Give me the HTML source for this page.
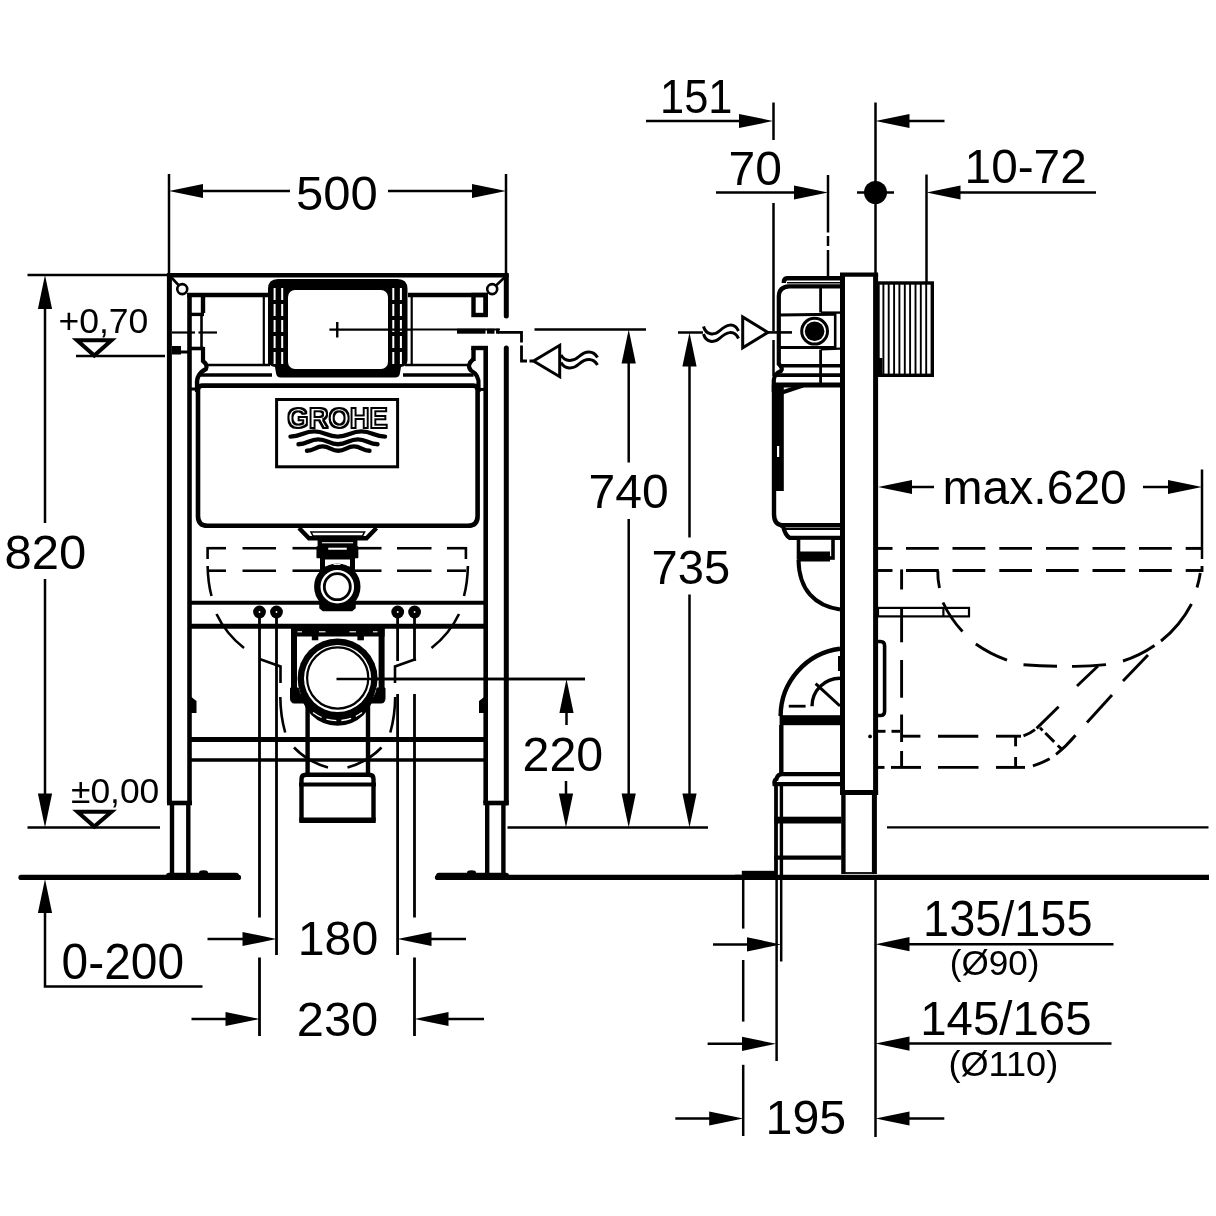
<!DOCTYPE html>
<html><head><meta charset="utf-8"><title>Drawing</title>
<style>
html,body{margin:0;padding:0;background:#fff;}
body{width:1216px;height:1216px;overflow:hidden;}
svg{display:block;}
svg text{font-family:"Liberation Sans",sans-serif;fill:#000;stroke:none;}
</style></head><body>
<svg width="1216" height="1216" viewBox="0 0 1216 1216">
<rect x="0" y="0" width="1216" height="1216" fill="#fff" stroke="none"/>
<defs><filter id="nf" x="-10%" y="-30%" width="120%" height="160%"><feOffset dx="0" dy="0"/></filter></defs>
<g stroke="#000" fill="none" stroke-linecap="butt">
<g id="dims-front">
<line x1="169" y1="174" x2="169" y2="275" stroke-width="2.5" />
<line x1="506" y1="174" x2="506" y2="275" stroke-width="2.5" />
<line x1="203" y1="191" x2="290" y2="191" stroke-width="2.5" />
<line x1="388" y1="191" x2="472" y2="191" stroke-width="2.5" />
<polygon points="169,191 203,183.9 203,198.1" fill="#000" stroke="none"/>
<polygon points="506,191 472,183.9 472,198.1" fill="#000" stroke="none"/>
<text transform="translate(296.00,210) scale(1.0000,1)" font-size="49" filter="url(#nf)">500</text>
<line x1="27.5" y1="275" x2="169" y2="275" stroke-width="2.5" />
<line x1="45" y1="309" x2="45" y2="523" stroke-width="2.5" />
<line x1="45" y1="579" x2="45" y2="794" stroke-width="2.5" />
<polygon points="45,275 37.9,309 52.1,309" fill="#000" stroke="none"/>
<polygon points="45,827.5 37.9,793.5 52.1,793.5" fill="#000" stroke="none"/>
<text transform="translate(4.50,569) scale(1.0000,1)" font-size="49" filter="url(#nf)">820</text>
<line x1="27.5" y1="827.5" x2="160" y2="827.5" stroke-width="2.5" />
<text transform="translate(58.46,332.5) scale(1.0155,1)" font-size="35" filter="url(#nf)">+0,70</text>
<path d="M77,340.3 H111.5 L94.3,355.5 Z" stroke-width="4" fill="none" stroke-linejoin="miter"/>
<line x1="76" y1="356" x2="165" y2="356" stroke-width="2.5" />
<text transform="translate(70.98,803) scale(1.0119,1)" font-size="35" filter="url(#nf)">±0,00</text>
<path d="M77.5,811.8 H111.5 L94.3,826.5 Z" stroke-width="4" fill="none" stroke-linejoin="miter"/>
<polygon points="45,879 37.9,913 52.1,913" fill="#000" stroke="none"/>
<path d="M45,912 V986.5 H202.5" stroke-width="2.5" fill="none" />
<text transform="translate(61.56,979) scale(0.9775,1)" font-size="49" filter="url(#nf)">0-200</text>
<line x1="207.5" y1="939" x2="243" y2="939" stroke-width="2.5" />
<polygon points="276.5,939 242.5,931.9 242.5,946.1" fill="#000" stroke="none"/>
<line x1="431" y1="939" x2="466" y2="939" stroke-width="2.5" />
<polygon points="397.5,939 431.5,931.9 431.5,946.1" fill="#000" stroke="none"/>
<text transform="translate(297.77,955) scale(0.9840,1)" font-size="49" filter="url(#nf)">180</text>
<line x1="191.5" y1="1019" x2="226" y2="1019" stroke-width="2.5" />
<polygon points="259.5,1019 225.5,1011.9 225.5,1026.1" fill="#000" stroke="none"/>
<line x1="448" y1="1019" x2="484" y2="1019" stroke-width="2.5" />
<polygon points="414.5,1019 448.5,1011.9 448.5,1026.1" fill="#000" stroke="none"/>
<text transform="translate(296.71,1035.7) scale(0.9974,1)" font-size="49" filter="url(#nf)">230</text>
<line x1="259.5" y1="612" x2="259.5" y2="917.5" stroke-width="2.8" />
<line x1="259.5" y1="957.5" x2="259.5" y2="1036" stroke-width="2.8" />
<line x1="276.5" y1="612" x2="276.5" y2="955" stroke-width="2.8" />
<line x1="397.6" y1="694" x2="397.6" y2="955" stroke-width="2.8" />
<line x1="397.6" y1="612" x2="397.6" y2="661" stroke-width="2.8" />
<line x1="414.5" y1="694" x2="414.5" y2="917.5" stroke-width="2.8" />
<line x1="414.5" y1="612" x2="414.5" y2="661" stroke-width="2.8" />
<line x1="414.5" y1="957.5" x2="414.5" y2="1036" stroke-width="2.8" />
<line x1="336.5" y1="679" x2="585" y2="679" stroke-width="2.5" />
<polygon points="566.5,679 559.4,713 573.6,713" fill="#000" stroke="none"/>
<line x1="566.5" y1="712" x2="566.5" y2="725" stroke-width="2.5" />
<text transform="translate(522.53,770.7) scale(0.9870,1)" font-size="49" filter="url(#nf)">220</text>
<line x1="566" y1="781" x2="566" y2="795" stroke-width="2.5" />
<polygon points="566,827.5 558.9,793.5 573.1,793.5" fill="#000" stroke="none"/>
<line x1="507.5" y1="827.4" x2="708" y2="827.4" stroke-width="2.5" />
<line x1="534.5" y1="329.5" x2="646" y2="329.5" stroke-width="2.5" />
<polygon points="628.7,329.5 621.6,363.5 635.8000000000001,363.5" fill="#000" stroke="none"/>
<line x1="628.7" y1="363" x2="628.7" y2="462.5" stroke-width="2.5" />
<line x1="628.7" y1="519" x2="628.7" y2="794" stroke-width="2.5" />
<polygon points="628.7,827.5 621.6,793.5 635.8000000000001,793.5" fill="#000" stroke="none"/>
<text transform="translate(588.55,508) scale(0.9805,1)" font-size="49" filter="url(#nf)">740</text>
<line x1="678" y1="332.5" x2="703" y2="332.5" stroke-width="2.5" />
<polygon points="689.5,332.5 682.4,366.5 696.6,366.5" fill="#000" stroke="none"/>
<line x1="689.5" y1="366" x2="689.5" y2="537.5" stroke-width="2.5" />
<line x1="689.5" y1="594.5" x2="689.5" y2="794" stroke-width="2.5" />
<polygon points="689.5,827.5 682.4,793.5 696.6,793.5" fill="#000" stroke="none"/>
<text transform="translate(651.60,584) scale(0.9610,1)" font-size="49" filter="url(#nf)">735</text>
</g>
<g id="dims-side">
<line x1="646" y1="121" x2="740" y2="121" stroke-width="2.5" />
<polygon points="773,121 739,113.9 739,128.1" fill="#000" stroke="none"/>
<line x1="773.5" y1="102.5" x2="773.5" y2="140" stroke-width="2.5" />
<line x1="773.5" y1="203" x2="773.5" y2="331" stroke-width="2.5" />
<line x1="773.5" y1="340" x2="773.5" y2="376" stroke-width="2.5" />
<line x1="875.5" y1="102.5" x2="875.5" y2="274" stroke-width="2.5" />
<polygon points="875.5,121 909.5,113.9 909.5,128.1" fill="#000" stroke="none"/>
<line x1="909" y1="121" x2="944.5" y2="121" stroke-width="2.5" />
<text transform="translate(660.02,112.5) scale(0.8851,1)" font-size="49" filter="url(#nf)">151</text>
<line x1="716" y1="192.5" x2="795" y2="192.5" stroke-width="2.5" />
<polygon points="828,192.5 794,185.4 794,199.6" fill="#000" stroke="none"/>
<line x1="828" y1="175" x2="828" y2="232.5" stroke-width="2.5" />
<line x1="828" y1="236" x2="828" y2="246" stroke-width="2.5" />
<line x1="828" y1="250" x2="828" y2="276" stroke-width="2.5" />
<text transform="translate(728.55,184.5) scale(0.9800,1)" font-size="49" filter="url(#nf)">70</text>
<circle cx="875.5" cy="192.5" r="11.5" stroke-width="0" fill="#000" />
<line x1="857" y1="192.5" x2="894" y2="192.5" stroke-width="2.5" />
<line x1="926.5" y1="174.5" x2="926.5" y2="282" stroke-width="2.5" />
<polygon points="926.5,192.5 960.5,185.4 960.5,199.6" fill="#000" stroke="none"/>
<line x1="960" y1="192.5" x2="1096" y2="192.5" stroke-width="2.5" />
<text transform="translate(964.61,183) scale(0.9746,1)" font-size="49" filter="url(#nf)">10-72</text>
<line x1="878" y1="487" x2="878" y2="487" stroke-width="2.5" />
<polygon points="878,487 912,479.9 912,494.1" fill="#000" stroke="none"/>
<line x1="911" y1="487" x2="934" y2="487" stroke-width="2.5" />
<line x1="1143" y1="487" x2="1168" y2="487" stroke-width="2.5" />
<polygon points="1202,487 1168,479.9 1168,494.1" fill="#000" stroke="none"/>
<line x1="1202" y1="469.5" x2="1202" y2="559" stroke-width="2.5" />
<text transform="translate(942.57,504) scale(0.9808,1)" font-size="49" filter="url(#nf)">max.620</text>
<line x1="713" y1="944.4" x2="748" y2="944.4" stroke-width="2.5" />
<polygon points="781,944.4 747,937.3 747,951.5" fill="#000" stroke="none"/>
<polygon points="875.5,944.2 909.5,937.1 909.5,951.3000000000001" fill="#000" stroke="none"/>
<line x1="909" y1="944.2" x2="1113.5" y2="944.2" stroke-width="2.5" />
<text transform="translate(923.10,936) scale(0.9565,1)" font-size="49" filter="url(#nf)">135/155</text>
<text transform="translate(949.80,975) scale(1.0012,1)" font-size="35" filter="url(#nf)">(Ø90)</text>
<line x1="707.6" y1="1043.8" x2="742" y2="1043.8" stroke-width="2.5" />
<polygon points="776,1043.8 742,1036.7 742,1050.8999999999999" fill="#000" stroke="none"/>
<polygon points="875.5,1043.6 909.5,1036.5 909.5,1050.6999999999998" fill="#000" stroke="none"/>
<line x1="909" y1="1043.6" x2="1111.5" y2="1043.6" stroke-width="2.5" />
<text transform="translate(920.25,1035.2) scale(0.9671,1)" font-size="49" filter="url(#nf)">145/165</text>
<text transform="translate(948.42,1075.5) scale(1.0327,1)" font-size="35" filter="url(#nf)">(Ø110)</text>
<line x1="675.3" y1="1118.5" x2="710" y2="1118.5" stroke-width="2.5" />
<polygon points="743.2,1118.5 709.2,1111.4 709.2,1125.6" fill="#000" stroke="none"/>
<polygon points="875.5,1118.5 909.5,1111.4 909.5,1125.6" fill="#000" stroke="none"/>
<line x1="909" y1="1118.5" x2="944.3" y2="1118.5" stroke-width="2.5" />
<text transform="translate(765.56,1133.5) scale(0.9867,1)" font-size="49" filter="url(#nf)">195</text>
<line x1="743.2" y1="878" x2="743.2" y2="928.6" stroke-width="2.5" />
<line x1="743.2" y1="960" x2="743.2" y2="1021.6" stroke-width="2.5" />
<line x1="743.2" y1="1064.8" x2="743.2" y2="1136" stroke-width="2.5" />
<line x1="776.6" y1="877" x2="776.6" y2="1061" stroke-width="2.5" />
<line x1="781.2" y1="877" x2="781.2" y2="961.5" stroke-width="2.5" />
<line x1="875.5" y1="877" x2="875.5" y2="1137" stroke-width="2.5" />
</g>
<g id="front">
<line x1="167" y1="275.3" x2="508.6" y2="275.3" stroke-width="4.4" />
<line x1="169.4" y1="275" x2="169.4" y2="803" stroke-width="5" />
<line x1="506.3" y1="275" x2="506.3" y2="316" stroke-width="5" stroke-linecap="round"/>
<line x1="506.3" y1="348" x2="506.3" y2="803" stroke-width="5" stroke-linecap="round"/>
<line x1="189.5" y1="293" x2="189.5" y2="803" stroke-width="4.6" />
<line x1="485.7" y1="293" x2="485.7" y2="315" stroke-width="4.6" />
<line x1="485.7" y1="346" x2="485.7" y2="803" stroke-width="4.6" />
<line x1="167" y1="803" x2="192" y2="803" stroke-width="4.6" />
<line x1="483.3" y1="803" x2="508.8" y2="803" stroke-width="4.6" />
<line x1="172" y1="803" x2="172" y2="876" stroke-width="4.4" />
<line x1="188.3" y1="803" x2="188.3" y2="876" stroke-width="4.4" />
<line x1="487.2" y1="803" x2="487.2" y2="876" stroke-width="4.4" />
<line x1="503.4" y1="803" x2="503.4" y2="876" stroke-width="4.4" />
<line x1="170.5" y1="276.5" x2="182.25" y2="289.1" stroke-width="2.6" />
<circle cx="182.25" cy="289.1" r="5" stroke-width="2.6" fill="#fff" />
<line x1="505.5" y1="276.5" x2="492.2" y2="289.1" stroke-width="2.6" />
<circle cx="492.2" cy="289.1" r="5" stroke-width="2.6" fill="#fff" />
<line x1="189.5" y1="602.8" x2="485.7" y2="602.8" stroke-width="4" />
<line x1="189.5" y1="626.2" x2="485.7" y2="626.2" stroke-width="5" />
<line x1="189.5" y1="739.5" x2="485.7" y2="739.5" stroke-width="5" />
<line x1="189.5" y1="760" x2="485.7" y2="760" stroke-width="3.2" />
<path d="M190,696 L196.5,701 V713 H190 Z" fill="#000" stroke="none"/>
<path d="M485.5,696 L479,701 V713 H485.5 Z" fill="#000" stroke="none"/>
<line x1="187.2" y1="295" x2="270" y2="295" stroke-width="4.4" />
<line x1="203" y1="293" x2="203" y2="313" stroke-width="4.4" />
<line x1="189.5" y1="314.4" x2="204" y2="314.4" stroke-width="3.4" />
<line x1="201.5" y1="314" x2="201.5" y2="348" stroke-width="2.6" />
<line x1="189.5" y1="348.5" x2="204" y2="348.5" stroke-width="3.6" />
<path d="M203,347 V361 Q208,365 206,369 Q196,374 197,385 V392" stroke-width="4.2" fill="none" />
<line x1="263.8" y1="297" x2="263.8" y2="365" stroke-width="2.2" />
<line x1="269" y1="342" x2="269" y2="364" stroke-width="1.8" />
<line x1="206" y1="365" x2="270" y2="365" stroke-width="2.6" />
<line x1="200" y1="375" x2="272" y2="375" stroke-width="3.4" />
<line x1="189.5" y1="389" x2="197" y2="389" stroke-width="3" />
<line x1="172" y1="332.5" x2="195" y2="332.5" stroke-width="2.2" />
<line x1="198.5" y1="332.5" x2="217" y2="332.5" stroke-width="2.2" />
<rect x="172" y="346" width="9" height="8.5" stroke-width="0" fill="#000" />
<line x1="180" y1="352" x2="188" y2="352" stroke-width="3" />
<line x1="408" y1="295" x2="488" y2="295" stroke-width="4.4" />
<rect x="473.5" y="295" width="12.2" height="20" stroke-width="4.4" fill="none" />
<path d="M471.2,348 H488" stroke-width="4.4" fill="none" />
<line x1="473.5" y1="348" x2="473.5" y2="361" stroke-width="4.4" />
<path d="M473.5,359 Q466,365 471,370.5 Q479.5,375 478.5,385 V392" stroke-width="4.2" fill="none" />
<line x1="411.7" y1="297" x2="411.7" y2="365" stroke-width="2.2" />
<line x1="405" y1="365" x2="468" y2="365" stroke-width="2.6" />
<line x1="403" y1="375" x2="473.5" y2="375" stroke-width="3.4" />
<line x1="478.5" y1="389.4" x2="485" y2="389.4" stroke-width="3" />
<path d="M202,385.6 H473.5 Q477.6,385.6 477.6,390 V516 Q477.6,525.8 468,525.8 H207.5 Q198,525.8 198,516 V390 Q198,385.6 202,385.6 Z" stroke-width="4.6" fill="none" />
<path d="M278,279 H397.5 Q407.5,279 407.5,289 V360 Q407.5,366 401,367 L400,373 Q399.5,377.5 395,377.5 H281 Q276.5,377.5 276,373 L275,367 Q268,366 268,360 V289 Q268,279 278,279 Z" fill="#000" stroke="none"/>
<rect x="288" y="290" width="100" height="79" rx="7" ry="7" fill="#fff" stroke="none"/>
<line x1="274.6" y1="288" x2="274.6" y2="365" stroke="#fff" stroke-width="2" stroke-dasharray="12 4"/>
<line x1="282.2" y1="288" x2="282.2" y2="365" stroke="#fff" stroke-width="2" stroke-dasharray="12 4"/>
<line x1="393.3" y1="288" x2="393.3" y2="365" stroke="#fff" stroke-width="2" stroke-dasharray="12 4"/>
<line x1="400.9" y1="288" x2="400.9" y2="365" stroke="#fff" stroke-width="2" stroke-dasharray="12 4"/>
<line x1="337.25" y1="322" x2="337.25" y2="337.5" stroke-width="2.4" />
<line x1="329.4" y1="329.6" x2="412" y2="329.6" stroke-width="2.4" />
<line x1="412" y1="329.5" x2="500" y2="329.5" stroke-width="2.2" />
<line x1="457" y1="331.2" x2="485.5" y2="331.2" stroke-width="5" />
<line x1="487" y1="331.2" x2="494.5" y2="331.2" stroke-width="5" />
<line x1="496" y1="331.2" x2="499" y2="331.2" stroke-width="5" />
<path d="M498,332.3 H521.5 V342.5 M521.5,345.5 V361 H527 M529.5,361 H533" stroke-width="2.8" fill="none" />
<path d="M533.5,361 L559.7,345.3 V376.7 Z" stroke-width="3" fill="none" />
<path d="M561,355 C565,362 573,362 579,356.5 C585,351 593,349.5 597.5,357.5" stroke-width="3" fill="none" />
<path d="M561,362.5 C565,369.5 573,369.5 579,364 C585,358.5 593,357 597.5,365" stroke-width="3" fill="none" />
<rect x="276.6" y="399.5" width="121" height="67.3" stroke-width="3" fill="none" />
<defs><filter id="er" x="-5%" y="-20%" width="110%" height="140%"><feMorphology operator="erode" radius="1.25"/></filter><filter id="di" x="-5%" y="-20%" width="110%" height="140%"><feMorphology operator="dilate" radius="0.9"/></filter></defs>
<text x="337.6" y="428.4" font-size="29" font-weight="bold" text-anchor="middle" textLength="100.5" lengthAdjust="spacingAndGlyphs" style="fill:#000;stroke:none" filter="url(#di)">GROHE</text>
<text x="337.6" y="428.4" font-size="29" font-weight="bold" text-anchor="middle" textLength="100.5" lengthAdjust="spacingAndGlyphs" style="fill:#fff;stroke:none" filter="url(#er)">GROHE</text>
<path d="M290.5,436.6 C301.13125,436.6 303.49375,431.4 314.125,431.4 C324.75625,431.4 327.11875,436.6 337.75,436.6 C348.38125,436.6 350.74375,431.4 361.375,431.4 C372.00625,431.4 374.36875,436.6 385,436.6" stroke-width="4.4" fill="none" stroke-linecap="round"/>
<path d="M298.5,444.2 C307.3875,444.2 309.3625,439.40000000000003 318.25,439.40000000000003 C327.1375,439.40000000000003 329.1125,444.2 338.0,444.2 C346.8875,444.2 348.8625,439.40000000000003 357.75,439.40000000000003 C366.6375,439.40000000000003 368.6125,444.2 377.5,444.2" stroke-width="4.4" fill="none" stroke-linecap="round"/>
<path d="M307,450.8 C314.03125,450.8 315.59375,446.40000000000003 322.625,446.40000000000003 C329.65625,446.40000000000003 331.21875,450.8 338.25,450.8 C345.28125,450.8 346.84375,446.40000000000003 353.875,446.40000000000003 C360.90625,446.40000000000003 362.46875,450.8 369.5,450.8" stroke-width="4.4" fill="none" stroke-linecap="round"/>
</g>
<g id="front-lower">
<line x1="207.5" y1="548.2" x2="226" y2="548.2" stroke-width="2.6" />
<line x1="242.5" y1="548.2" x2="276" y2="548.2" stroke-width="2.6" />
<line x1="292.5" y1="548.2" x2="319" y2="548.2" stroke-width="2.6" />
<line x1="356.5" y1="548.2" x2="381.5" y2="548.2" stroke-width="2.6" />
<line x1="397" y1="548.2" x2="431.5" y2="548.2" stroke-width="2.6" />
<line x1="447" y1="548.2" x2="466" y2="548.2" stroke-width="2.6" />
<line x1="207.5" y1="570.7" x2="226" y2="570.7" stroke-width="2.6" />
<line x1="242.5" y1="570.7" x2="276" y2="570.7" stroke-width="2.6" />
<line x1="292.5" y1="570.7" x2="321" y2="570.7" stroke-width="2.6" />
<line x1="354.5" y1="570.7" x2="381.5" y2="570.7" stroke-width="2.6" />
<line x1="397" y1="570.7" x2="431.5" y2="570.7" stroke-width="2.6" />
<line x1="447" y1="570.7" x2="466" y2="570.7" stroke-width="2.6" />
<line x1="207.6" y1="547" x2="207.6" y2="559" stroke-width="2.6" />
<line x1="465.9" y1="547" x2="465.9" y2="559" stroke-width="2.6" />
<path d="M207.6,566 Q208,583 211.5,596" stroke-width="2.6" fill="none" />
<path d="M207.6,566 Q208,583 211.5,596" stroke-width="2.6" fill="none" transform="translate(675.5,0) scale(-1,1)"/>
<path d="M216.5,614 Q226,634 244,648" stroke-width="2.6" fill="none" />
<path d="M216.5,614 Q226,634 244,648" stroke-width="2.6" fill="none" transform="translate(675.5,0) scale(-1,1)"/>
<path d="M259.5,659 L280.5,666.5 V683" stroke-width="2.6" fill="none" />
<path d="M259.5,659 L280.5,666.5 V683" stroke-width="2.6" fill="none" transform="translate(675.5,0) scale(-1,1)"/>
<path d="M280.3,697 Q280.5,716 285.2,732.5" stroke-width="2.6" fill="none" />
<path d="M280.3,697 Q280.5,716 285.2,732.5" stroke-width="2.6" fill="none" transform="translate(675.5,0) scale(-1,1)"/>
<path d="M294,747.5 Q308,762 328,767.5" stroke-width="2.6" fill="none" />
<path d="M294,747.5 Q308,762 328,767.5" stroke-width="2.6" fill="none" transform="translate(675.5,0) scale(-1,1)"/>
<path d="M299,528 L309,538.2 H366.5 L376.5,528" stroke-width="4.4" fill="none" />
<path d="M311,532 H364.5 L362.5,536 H313 Z" stroke-width="1.6" fill="none" />
<rect x="319.8" y="540" width="35.4" height="5.5" stroke-width="4.4" fill="#fff" />
<path d="M317.2,547 H327.5 V550.5 H347.5 V547 H357.6 V557.5 H317.2 Z" fill="#000" stroke="#000" stroke-width="1.5" stroke-linejoin="round"/>
<rect x="322.5" y="557" width="30" height="12" stroke-width="5" fill="#fff" />
<path d="M320,603 H355 V608 L352,610.5 H323 L320,608 Z" fill="#000" stroke="#000" stroke-width="1.5" stroke-linejoin="round"/>
<circle cx="337.3" cy="586.7" r="20" stroke-width="6.4" fill="#fff" />
<circle cx="337.3" cy="586.7" r="13" stroke-width="2.8" fill="#fff" />
<line x1="333.5" y1="564.3" x2="340.5" y2="564.3" stroke-width="1.2" stroke="#fff"/>
<circle cx="259.5" cy="612" r="6.4" stroke-width="0" fill="#000" />
<circle cx="259.5" cy="612" r="0.9" stroke-width="0" fill="#fff" />
<circle cx="276.5" cy="612" r="6.4" stroke-width="0" fill="#000" />
<circle cx="276.5" cy="612" r="0.9" stroke-width="0" fill="#fff" />
<circle cx="397.7" cy="612" r="6.4" stroke-width="0" fill="#000" />
<circle cx="397.7" cy="612" r="0.9" stroke-width="0" fill="#fff" />
<circle cx="414.6" cy="612" r="6.4" stroke-width="0" fill="#000" />
<circle cx="414.6" cy="612" r="0.9" stroke-width="0" fill="#fff" />
<rect x="291" y="628" width="93.6" height="8.5" fill="#000" stroke="none"/>
<line x1="297.5" y1="631.8" x2="302" y2="631.8" stroke-width="1.1" stroke="#fff"/>
<line x1="319" y1="631.8" x2="325.5" y2="631.8" stroke-width="1.1" stroke="#fff"/>
<line x1="349.5" y1="631.8" x2="356" y2="631.8" stroke-width="1.1" stroke="#fff"/>
<line x1="373" y1="631.8" x2="377.5" y2="631.8" stroke-width="1.1" stroke="#fff"/>
<rect x="311.8" y="636" width="6.5" height="4.3" stroke-width="0" fill="#000" />
<rect x="357.4" y="636" width="6.5" height="4.3" stroke-width="0" fill="#000" />
<line x1="294" y1="628" x2="294" y2="692" stroke-width="6" />
<line x1="381.6" y1="628" x2="381.6" y2="692" stroke-width="6" />
<path d="M290.5,688 H298.5 Q300,698 308,703 H294 Q290.5,703 290.5,698 Z" fill="#000" stroke="#000" stroke-width="1"/>
<path d="M385,688 H377 Q375.5,698 367.5,703 H381.5 Q385,703 385,698 Z" fill="#000" stroke="#000" stroke-width="1"/>
<line x1="307.6" y1="700" x2="307.6" y2="773" stroke-width="4.4" />
<line x1="368" y1="700" x2="368" y2="773" stroke-width="4.4" />
<circle cx="337.5" cy="688.8" r="37" stroke-width="0" fill="#000" />
<circle cx="337.6" cy="678.5" r="40" stroke-width="0" fill="#000" />
<circle cx="337.6" cy="678.5" r="33.6" stroke-width="0" fill="#fff" />
<circle cx="337.7" cy="678" r="30.6" stroke-width="2.2" fill="#fff" />
<path d="M313,712.6 A41.2,41.2 0 0 0 362,712.6" stroke="#fff" stroke-width="1.3" fill="none" stroke-dasharray="10 5"/>
<line x1="336.5" y1="679" x2="585" y2="679" stroke-width="2.5" />
<path d="M301.5,820.5 V779 Q301.5,774.8 306,774.8 H369 Q373.5,774.8 373.5,779 V820.5 Z" fill="#fff" stroke="#000" stroke-width="4.4" stroke-linejoin="round"/>
<line x1="299" y1="784.5" x2="376" y2="784.5" stroke-width="4" />
<line x1="299.3" y1="820.3" x2="375.7" y2="820.3" stroke-width="5.4" />
<line x1="189.5" y1="739.5" x2="485.7" y2="739.5" stroke-width="5" />
<line x1="189.5" y1="760" x2="485.7" y2="760" stroke-width="3.2" />
<line x1="21" y1="877.4" x2="238.5" y2="877.4" stroke-width="5.2" stroke-linecap="round"/>
<line x1="437.5" y1="877.4" x2="740" y2="877.4" stroke-width="5.2" stroke-linecap="round"/>
<rect x="166" y="872.8" width="73" height="6.9" rx="3" fill="#000" stroke="none"/>
<rect x="436" y="872.8" width="73" height="6.9" rx="3" fill="#000" stroke="none"/>
<ellipse cx="203.5" cy="872.6" rx="4.5" ry="2.4" fill="#000" stroke="none"/>
<ellipse cx="471.5" cy="872.6" rx="4.5" ry="2.4" fill="#000" stroke="none"/>
</g>
<g id="side">
<rect x="878" y="283" width="54.3" height="92.3" stroke-width="3.4" fill="#fff" />
<line x1="883.4" y1="284" x2="883.4" y2="374" stroke-width="1.9" />
<line x1="888.7" y1="284" x2="888.7" y2="374" stroke-width="1.9" />
<line x1="894.1" y1="284" x2="894.1" y2="374" stroke-width="1.9" />
<line x1="899.4" y1="284" x2="899.4" y2="374" stroke-width="1.9" />
<line x1="904.8" y1="284" x2="904.8" y2="374" stroke-width="1.9" />
<line x1="910.1" y1="284" x2="910.1" y2="374" stroke-width="1.9" />
<line x1="915.5" y1="284" x2="915.5" y2="374" stroke-width="1.9" />
<line x1="920.8" y1="284" x2="920.8" y2="374" stroke-width="1.9" />
<line x1="926.2" y1="284" x2="926.2" y2="374" stroke-width="1.9" />
<rect x="878.5" y="358" width="4" height="17" stroke-width="0" fill="#000" />
<path d="M840,278.3 H787 Q783.8,278.3 783.8,283" stroke-width="4.4" fill="none" />
<path d="M840,286.3 H789 Q779,287 778.8,296 V364 Q783.5,368.5 781,371 Q774,374 773.8,380 V392" stroke-width="4.2" fill="none" />
<line x1="787" y1="282.7" x2="840" y2="282.7" stroke-width="1.6" />
<line x1="820.6" y1="286" x2="820.6" y2="312.5" stroke-width="2.8" />
<line x1="820.6" y1="349.5" x2="820.6" y2="383" stroke-width="2.8" />
<line x1="779" y1="315" x2="836" y2="314.3" stroke-width="3" />
<line x1="779" y1="347.6" x2="836" y2="347.6" stroke-width="3" />
<line x1="835.2" y1="313" x2="835.2" y2="349" stroke-width="2.6" />
<line x1="821" y1="312.6" x2="840" y2="312.6" stroke-width="2.4" />
<line x1="821" y1="349.4" x2="840" y2="348.6" stroke-width="2.4" />
<circle cx="814.6" cy="331.2" r="12.9" stroke-width="3" fill="#fff" />
<circle cx="814.6" cy="331.2" r="9.8" stroke-width="0" fill="#000" />
<line x1="779" y1="365.8" x2="840" y2="365.8" stroke-width="3.4" />
<line x1="774" y1="375.2" x2="840" y2="375.2" stroke-width="3.8" />
<line x1="772" y1="385" x2="840" y2="385" stroke-width="5" />
<rect x="772" y="385" width="11.8" height="106" fill="#000" stroke="none"/>
<line x1="779" y1="393.5" x2="803" y2="385.5" stroke-width="4" />
<path d="M774,385 V514 Q774,525 783,525.5" stroke-width="4.4" fill="none" />
<rect x="777" y="446" width="2.2" height="11" fill="#fff" stroke="none"/>
<line x1="780" y1="525.2" x2="840" y2="525.2" stroke-width="4.6" />
<line x1="785" y1="529" x2="840" y2="529" stroke-width="1.8" />
<path d="M783,526 Q785,535 789.5,537.8 H840" stroke-width="4.2" fill="none" />
<rect x="798.5" y="538" width="34.5" height="20" stroke-width="3.6" fill="#fff" />
<rect x="798" y="551.5" width="32" height="10" fill="#000" stroke="none"/>
<path d="M798.5,560 C799,590 815,606 840,609.5" stroke-width="4" fill="none" />
<path d="M840,648.8 A68,68 0 0 0 780.6,716" stroke-width="4.4" fill="none" />
<path d="M840,678.2 A28,28 0 0 0 812,706.2" stroke-width="3.4" fill="none" />
<line x1="815.6" y1="683.6" x2="840" y2="706" stroke-width="3" />
<line x1="788.8" y1="706.2" x2="805.6" y2="706.2" stroke-width="2.8" />
<rect x="838" y="656" width="3" height="15" fill="#000" stroke="none"/>
<rect x="779.6" y="715.2" width="61" height="10" fill="#000" stroke="none"/>
<line x1="781.3" y1="725" x2="781.3" y2="773" stroke-width="4.4" />
<path d="M840,774.2 H782 Q777.5,774.5 776.5,779 Q774,780 774.5,784.2 H840" stroke-width="4.2" fill="none" />
<line x1="776" y1="786" x2="776" y2="877" stroke-width="3.8" />
<line x1="781.4" y1="786" x2="781.4" y2="877" stroke-width="3.4" />
<rect x="774.5" y="816.7" width="67" height="6.8" fill="#000" stroke="none"/>
<line x1="774" y1="857.6" x2="841.5" y2="857.6" stroke-width="4.4" />
<rect x="842.5" y="274.6" width="33.1" height="520" fill="#fff" stroke="none"/>
<line x1="840" y1="274.6" x2="878.1" y2="274.6" stroke-width="4.4" />
<line x1="842.5" y1="274" x2="842.5" y2="795" stroke-width="5" />
<line x1="875.6" y1="274" x2="875.6" y2="795" stroke-width="5" />
<line x1="840" y1="792.4" x2="878.1" y2="792.4" stroke-width="5" />
<line x1="843.4" y1="792" x2="843.4" y2="874" stroke-width="4.4" />
<line x1="874.4" y1="792" x2="874.4" y2="874" stroke-width="5" />
<line x1="843" y1="873" x2="875" y2="873" stroke-width="1.8" />
<path d="M878,641.5 H880.5 Q884.6,641.5 884.6,646 V711 Q884.6,715.5 880.5,715.5 H878" stroke-width="3.6" fill="none" />
<rect x="878" y="607.9" width="91" height="8.5" stroke-width="2.2" fill="none" />
<line x1="943.4" y1="607.9" x2="943.4" y2="616.4" stroke-width="2.2" />
<rect x="741.8" y="870.8" width="34" height="6" fill="#000" stroke="none"/>
<line x1="735" y1="877.4" x2="1209" y2="877.4" stroke-width="5.2" />
<line x1="887" y1="827.4" x2="1208.5" y2="827.4" stroke-width="2.4" />
<circle cx="870.1" cy="736.4" r="1.9" stroke-width="0" fill="#000" />
</g>
<g id="bowl">
<line x1="878" y1="548.4" x2="892.5" y2="548.4" stroke-width="2.9" />
<line x1="906" y1="548.4" x2="938.8" y2="548.4" stroke-width="2.9" />
<line x1="952.5" y1="548.4" x2="985.3" y2="548.4" stroke-width="2.9" />
<line x1="999.3" y1="548.4" x2="1032" y2="548.4" stroke-width="2.9" />
<line x1="1046" y1="548.4" x2="1078.7" y2="548.4" stroke-width="2.9" />
<line x1="1092.5" y1="548.4" x2="1125.2" y2="548.4" stroke-width="2.9" />
<line x1="1139" y1="548.4" x2="1171.8" y2="548.4" stroke-width="2.9" />
<line x1="1185.7" y1="548.4" x2="1202" y2="548.4" stroke-width="2.9" />
<line x1="878" y1="570.5" x2="892.5" y2="570.5" stroke-width="2.9" />
<line x1="906" y1="570.5" x2="938.8" y2="570.5" stroke-width="2.9" />
<line x1="952.5" y1="570.5" x2="985.3" y2="570.5" stroke-width="2.9" />
<line x1="999.3" y1="570.5" x2="1032" y2="570.5" stroke-width="2.9" />
<line x1="1046" y1="570.5" x2="1078.7" y2="570.5" stroke-width="2.9" />
<line x1="1092.5" y1="570.5" x2="1125.2" y2="570.5" stroke-width="2.9" />
<line x1="1139" y1="570.5" x2="1171.8" y2="570.5" stroke-width="2.9" />
<line x1="1185.7" y1="570.5" x2="1202" y2="570.5" stroke-width="2.9" />
<line x1="1202" y1="566" x2="1202" y2="572" stroke-width="2.9" />
<path d="M1200.3,573 Q1199,581 1197,587.5" stroke-width="2.9" fill="none" />
<path d="M1191.5,604 Q1180,626 1161,641" stroke-width="2.9" fill="none" />
<path d="M1154.5,645.5 Q1140,655.5 1123,661" stroke-width="2.9" fill="none" />
<path d="M1106,664.6 Q1088,666.6 1072,666.4" stroke-width="2.9" fill="none" />
<path d="M1057,666.2 Q1040,666 1023.5,664.8" stroke-width="2.9" fill="none" />
<path d="M1007,660.2 Q990,654 975.8,644" stroke-width="2.9" fill="none" />
<path d="M962.5,631.5 Q950,618 943,602.5" stroke-width="2.9" fill="none" />
<path d="M937.8,571 Q937.5,579 939.5,588" stroke-width="2.9" fill="none" />
<line x1="901.6" y1="569.4" x2="901.6" y2="589.5" stroke-width="2.9" />
<line x1="901.6" y1="608" x2="901.6" y2="642.3" stroke-width="2.9" />
<line x1="901.6" y1="660" x2="901.6" y2="697.7" stroke-width="2.9" />
<line x1="901.6" y1="714.5" x2="901.6" y2="742" stroke-width="2.9" />
<line x1="901.6" y1="751" x2="901.6" y2="767.5" stroke-width="2.9" />
<line x1="878" y1="731.3" x2="885.5" y2="731.3" stroke-width="2.9" />
<line x1="891.5" y1="731.3" x2="900" y2="731.3" stroke-width="2.9" />
<line x1="901.6" y1="736.2" x2="920.4" y2="736.2" stroke-width="2.9" />
<line x1="938" y1="736.2" x2="978.3" y2="736.2" stroke-width="2.9" />
<line x1="996" y1="736.2" x2="1021" y2="736.2" stroke-width="2.9" />
<line x1="878" y1="767.4" x2="884.5" y2="767.4" stroke-width="2.9" />
<line x1="891" y1="767.4" x2="921" y2="767.4" stroke-width="2.9" />
<line x1="938" y1="767.4" x2="978.5" y2="767.4" stroke-width="2.9" />
<line x1="996" y1="767.4" x2="1025" y2="767.4" stroke-width="2.9" />
<line x1="1015.6" y1="737" x2="1015.6" y2="746.3" stroke-width="2.9" />
<line x1="1015.6" y1="757" x2="1015.6" y2="767" stroke-width="2.9" />
<path d="M1023.5,735.9 Q1030,733.5 1035,729.6" stroke-width="2.9" fill="none" />
<path d="M1036.6,728.4 L1058.6,706.7" stroke-width="2.9" fill="none" />
<path d="M1077,686 L1098,666" stroke-width="2.9" fill="none" />
<path d="M1032.9,765.9 Q1042,763 1049.7,758.8" stroke-width="2.9" fill="none" />
<path d="M1056,754.3 Q1066,746.5 1075.5,735.2" stroke-width="2.9" fill="none" />
<path d="M1087,722.5 L1112,695" stroke-width="2.9" fill="none" />
<path d="M1123,681 L1148,655" stroke-width="2.9" fill="none" />
<path d="M1040,727.7 L1042.6,730.4 M1045.3,733 L1054.2,741.9 M1057.7,745.5 L1061.3,748.7" stroke-width="2.9" fill="none" />
</g>
<g id="inlet-side">
<path d="M742.7,317 V347.8 L767.8,332.4 Z" stroke-width="3" fill="none" />
<line x1="767.8" y1="332.4" x2="792" y2="332.4" stroke-width="2.6" />
<path d="M703.5,326.5 C706,335 714,336 720,330.5 C726,325 734,321.5 738.5,331" stroke-width="3" fill="none" />
<path d="M703.5,334 C706,342.5 714,343.5 720,338 C726,332.5 734,329 738.5,338.5" stroke-width="3" fill="none" />
</g>
</g>
</svg>
</body></html>
